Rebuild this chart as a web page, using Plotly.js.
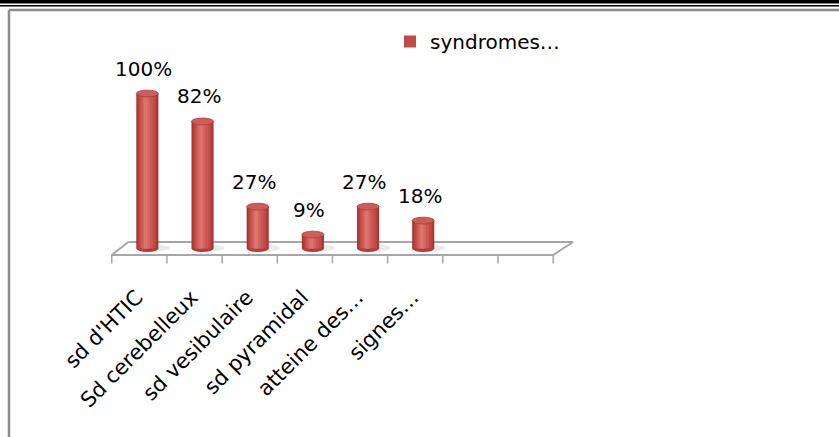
<!DOCTYPE html>
<html>
<head>
<meta charset="utf-8">
<script src="https://cdn.plot.ly/plotly-3.0.1.min.js"></script>
<style>
  html, body { margin: 0; padding: 0; background: #ffffff; }
  #chart { width: 839px; height: 437px; }
</style>
</head>
<body>
<div id="chart"></div>
<script>
// Category axis (eight slots, the last two are empty) and the series values in %
const categories = ["sd d'HTIC", "Sd cerebelleux", "sd vesibulaire", "sd pyramidal", "atteine des…", "signes…", "", ""];
const values = [100, 82, 27, 9, 27, 18];
const seriesName = "syndromes…";

// Page geometry
const W = 839, H = 437;
const M = { l: 109, r: 261, t: 61, b: 173 };
const PW = W - M.l - M.r, PH = H - M.t - M.b;
const xRange = [-0.55, 7.95];
const yRange = [-10, 121];

// helpers for the decorative frame (page pixels -> paper fraction)
const px = v => (v - M.l) / PW;
const py = v => (H - M.b - v) / PH;

const FONT = "DejaVu Sans, Verdana, sans-serif";
const positions = values.map((_, i) => i);

// cylinder geometry, in category units
const barW = 0.4;        // cylinder diameter
const barOff = -0.055;   // left edge relative to slot centre (cylinders stand mid-depth)
const capH = 2.2;        // half height of the elliptical caps (value units)
const floorFront = -4.2, floorBack = 4.2;

// shading strips, outer to inner, to give the cylinders their rounded look
const strips = [
  { a: 0.00, b: 1.00, c: "#a2302d" },
  { a: 0.05, b: 0.95, c: "#b43c38" },
  { a: 0.12, b: 0.88, c: "#c04a46", legend: true },
  { a: 0.20, b: 0.76, c: "#cb5753" },
  { a: 0.28, b: 0.62, c: "#d5655f" },
  { a: 0.35, b: 0.52, c: "#dc736e" }
];

const traces = strips.map(s => ({
  type: "bar",
  x: positions,
  y: values,
  width: positions.map(() => barW * (s.b - s.a)),
  offset: positions.map(() => barOff + barW * s.a),
  marker: { color: s.c, line: { width: 0 } },
  name: seriesName,
  showlegend: !!s.legend,
  hoverinfo: "skip"
}));

const shapes = [];

// floor of the 3-D plot
const floorLine = { color: "#a6a6a6", width: 2 };
shapes.push({ type: "line", xref: "x", yref: "y", x0: -0.5, x1: 7.5, y0: floorFront, y1: floorFront, line: floorLine, layer: "below" });
shapes.push({ type: "line", xref: "x", yref: "y", x0: -0.2, x1: 7.86, y0: floorBack, y1: floorBack, line: floorLine, layer: "below" });
shapes.push({ type: "line", xref: "x", yref: "y", x0: -0.5, x1: -0.2, y0: floorFront, y1: floorBack, line: floorLine, layer: "below" });
shapes.push({ type: "line", xref: "x", yref: "y", x0: 7.5, x1: 7.86, y0: floorFront, y1: floorBack, line: floorLine, layer: "below" });
// tick marks between the category slots
for (let k = 0; k <= categories.length; k++) {
  shapes.push({ type: "line", xref: "x", yref: "y", x0: k - 0.5, x1: k - 0.5, y0: floorFront, y1: -9.6,
                line: { color: "#a6a6a6", width: 1.5 }, layer: "below" });
}

// cylinder caps, soft shadows and rounded bottoms
positions.forEach((p, i) => {
  const x0 = p + barOff, x1 = p + barOff + barW;
  shapes.push({ type: "circle", xref: "x", yref: "y", x0: x0 + 0.12, x1: x1 + 0.2, y0: -1.8, y1: 2.4,
                fillcolor: "rgba(170,170,170,0.25)", line: { width: 0 }, layer: "below" });
  shapes.push({ type: "circle", xref: "x", yref: "y", x0: x0, x1: x1, y0: -capH, y1: capH,
                fillcolor: "#b43c38", line: { width: 0 }, layer: "below" });
  shapes.push({ type: "circle", xref: "x", yref: "y", x0: x0, x1: x1, y0: values[i] - capH, y1: values[i] + capH,
                fillcolor: "#cf5c58", line: { color: "#a93a36", width: 0.8 }, layer: "above" });
});

// frame around the chart and the double rule above it
shapes.push({ type: "rect", xref: "paper", yref: "paper", x0: px(0), x1: px(W), y0: py(0), y1: py(3.5),
              fillcolor: "#000000", line: { width: 0 } });
shapes.push({ type: "rect", xref: "paper", yref: "paper", x0: px(0), x1: px(W), y0: py(5), y1: py(6.5),
              fillcolor: "#000000", line: { width: 0 } });
shapes.push({ type: "line", xref: "paper", yref: "paper", x0: px(9), x1: px(W + 5), y0: py(10), y1: py(10),
              line: { color: "#8c8c8c", width: 2.5 } });
shapes.push({ type: "line", xref: "paper", yref: "paper", x0: px(9), x1: px(9), y0: py(10), y1: py(H + 5),
              line: { color: "#8c8c8c", width: 2.5 } });

// value labels above each cylinder
const annotations = positions.map((p, i) => ({
  xref: "x", yref: "y", x: p + 0.08, y: values[i],
  text: values[i] + "%", showarrow: false,
  xanchor: "center", yanchor: "bottom", yshift: 11,
  font: { family: FONT, size: 20, color: "#000000" }
}));

const layout = {
  width: W, height: H,
  margin: M,
  paper_bgcolor: "#ffffff",
  plot_bgcolor: "rgba(0,0,0,0)",
  barmode: "overlay",
  showlegend: true,
  legend: {
    x: px(390), y: py(22), xanchor: "left", yanchor: "top",
    font: { family: FONT, size: 20, color: "#000000" },
    bgcolor: "rgba(0,0,0,0)", borderwidth: 0
  },
  xaxis: {
    range: xRange,
    tickmode: "array",
    tickvals: categories.map((_, i) => i - 0.05),
    ticktext: categories,
    tickangle: -45,
    ticks: "",
    ticklabelstandoff: 16,
    showline: false, showgrid: false, zeroline: false,
    tickfont: { family: FONT, size: 21, color: "#000000" },
    fixedrange: true
  },
  yaxis: {
    range: yRange,
    visible: false, showgrid: false, zeroline: false,
    fixedrange: true
  },
  shapes: shapes,
  annotations: annotations
};

Plotly.newPlot("chart", traces, layout, { staticPlot: true, displayModeBar: false });
</script>
</body>
</html>
